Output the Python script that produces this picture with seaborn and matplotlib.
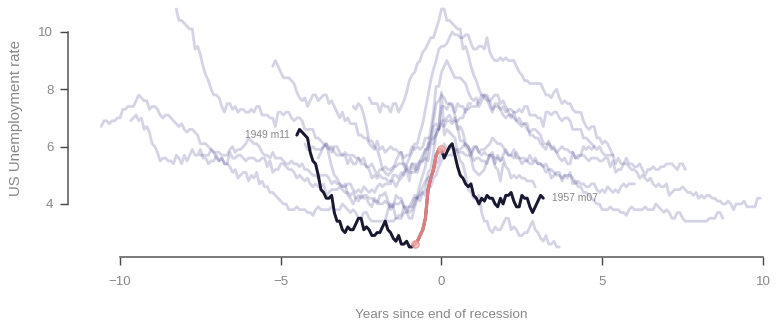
import matplotlib
matplotlib.use("Agg")
import numpy as np
import pandas as pd
import matplotlib.pyplot as plt
import seaborn as sns

# ---------------- data: monthly US unemployment rate (%) ----------------
ur_1948_1959 = [
    3.4, 3.8, 4.0, 3.9, 3.5, 3.6, 3.6, 3.9, 3.8, 3.7, 3.8, 4.0,
    4.3, 4.7, 5.0, 5.3, 6.1, 6.2, 6.7, 6.8, 6.6, 7.9, 6.4, 6.6,
    6.5, 6.4, 6.3, 5.8, 5.5, 5.4, 5.0, 4.5, 4.4, 4.2, 4.2, 4.3,
    3.7, 3.4, 3.4, 3.1, 3.0, 3.2, 3.1, 3.1, 3.3, 3.5, 3.5, 3.1,
    3.2, 3.1, 2.9, 2.9, 3.0, 3.0, 3.2, 3.4, 3.1, 3.0, 2.8, 2.7,
    2.9, 2.6, 2.6, 2.7, 2.5, 2.5, 2.6, 2.7, 2.9, 3.1, 3.5, 4.5,
    4.9, 5.2, 5.7, 5.9, 5.9, 5.6, 5.8, 6.0, 6.1, 5.7, 5.3, 5.0,
    4.9, 4.7, 4.6, 4.7, 4.3, 4.2, 4.0, 4.2, 4.1, 4.3, 4.2, 4.2,
    4.0, 3.9, 4.2, 4.0, 4.3, 4.3, 4.4, 4.1, 3.9, 3.9, 4.3, 4.2,
    4.2, 3.9, 3.7, 3.9, 4.1, 4.3, 4.2, 4.1, 4.4, 4.5, 5.1, 5.2,
    5.8, 6.4, 6.7, 7.4, 7.4, 7.3, 7.5, 7.4, 7.1, 6.7, 6.2, 6.2,
    6.0, 5.9, 5.6, 5.2, 5.1, 5.0, 5.1, 5.2, 5.5, 5.7, 5.8, 5.3,
]
ur_1960_1969 = [
    5.2, 4.8, 5.4, 5.2, 5.1, 5.4, 5.5, 5.6, 5.5, 6.1, 6.1, 6.6,
    6.6, 6.9, 6.9, 7.0, 7.1, 6.9, 7.0, 6.6, 6.7, 6.5, 6.1, 6.0,
    5.8, 5.5, 5.6, 5.6, 5.5, 5.5, 5.4, 5.7, 5.6, 5.4, 5.7, 5.5,
    5.7, 5.9, 5.7, 5.7, 5.9, 5.6, 5.6, 5.4, 5.5, 5.5, 5.7, 5.5,
    5.6, 5.4, 5.4, 5.3, 5.1, 5.2, 4.9, 5.0, 5.1, 5.1, 4.8, 5.0,
    4.9, 5.1, 4.7, 4.8, 4.6, 4.6, 4.4, 4.4, 4.3, 4.2, 4.1, 4.0,
    4.0, 3.8, 3.8, 3.8, 3.9, 3.8, 3.8, 3.8, 3.7, 3.7, 3.6, 3.8,
    3.9, 3.8, 3.8, 3.8, 3.8, 3.9, 3.8, 3.8, 3.8, 4.0, 3.9, 3.8,
    3.7, 3.8, 3.7, 3.5, 3.5, 3.7, 3.7, 3.5, 3.4, 3.4, 3.4, 3.4,
    3.4, 3.4, 3.4, 3.4, 3.4, 3.5, 3.5, 3.5, 3.7, 3.7, 3.5, 3.5,
]
ur_1970_1979 = [
    3.9, 4.2, 4.4, 4.6, 4.8, 4.9, 5.0, 5.1, 5.4, 5.5, 5.9, 6.1,
    5.9, 5.9, 6.0, 5.9, 5.9, 5.9, 6.0, 6.1, 6.0, 5.8, 6.0, 6.0,
    5.8, 5.7, 5.8, 5.7, 5.7, 5.7, 5.6, 5.6, 5.5, 5.6, 5.3, 5.2,
    4.9, 5.0, 4.9, 5.0, 4.9, 4.9, 4.8, 4.8, 4.8, 4.6, 4.8, 4.9,
    5.1, 5.2, 5.1, 5.1, 5.1, 5.4, 5.5, 5.5, 5.9, 6.0, 6.6, 7.2,
    8.1, 8.1, 8.6, 8.8, 9.0, 8.8, 8.6, 8.4, 8.4, 8.4, 8.3, 8.2,
    7.9, 7.7, 7.6, 7.7, 7.4, 7.6, 7.8, 7.8, 7.6, 7.7, 7.8, 7.8,
    7.5, 7.6, 7.4, 7.2, 7.0, 7.2, 6.9, 7.0, 6.8, 6.8, 6.8, 6.4,
    6.4, 6.3, 6.3, 6.1, 6.0, 5.9, 6.2, 5.9, 6.0, 5.8, 5.9, 6.0,
    5.9, 5.9, 5.8, 5.8, 5.6, 5.7, 5.7, 6.0, 5.9, 6.0, 5.9, 6.0,
]
ur_1980_1989 = [
    6.3, 6.3, 6.3, 6.9, 7.5, 7.6, 7.8, 7.7, 7.5, 7.5, 7.5, 7.2,
    7.5, 7.4, 7.4, 7.2, 7.5, 7.5, 7.2, 7.4, 7.6, 7.9, 8.3, 8.5,
    8.6, 8.9, 9.0, 9.3, 9.4, 9.6, 9.8, 9.8, 10.1, 10.4, 10.8, 10.8,
    10.4, 10.4, 10.3, 10.2, 10.1, 10.1, 9.4, 9.5, 9.2, 8.8, 8.5, 8.3,
    8.0, 7.8, 7.8, 7.7, 7.4, 7.2, 7.5, 7.5, 7.3, 7.4, 7.2, 7.3,
    7.3, 7.2, 7.2, 7.3, 7.2, 7.4, 7.4, 7.1, 7.1, 7.1, 7.0, 7.0,
    6.7, 7.2, 7.2, 7.1, 7.2, 7.2, 7.0, 6.9, 7.0, 7.0, 6.9, 6.6,
    6.6, 6.6, 6.6, 6.3, 6.3, 6.2, 6.1, 6.0, 5.9, 6.0, 5.8, 5.7,
    5.7, 5.7, 5.7, 5.4, 5.6, 5.4, 5.4, 5.6, 5.4, 5.4, 5.3, 5.3,
    5.4, 5.2, 5.0, 5.2, 5.2, 5.3, 5.2, 5.2, 5.3, 5.3, 5.4, 5.4,
]
ur_1990_1999 = [
    5.4, 5.3, 5.2, 5.4, 5.4, 5.2, 5.5, 5.7, 5.9, 5.9, 6.2, 6.3,
    6.4, 6.6, 6.8, 6.7, 6.9, 6.9, 6.8, 6.9, 6.9, 7.0, 7.0, 7.3,
    7.3, 7.4, 7.4, 7.4, 7.6, 7.8, 7.7, 7.6, 7.6, 7.3, 7.4, 7.4,
    7.3, 7.1, 7.0, 7.1, 7.1, 7.0, 6.9, 6.8, 6.7, 6.8, 6.6, 6.5,
    6.6, 6.6, 6.5, 6.4, 6.1, 6.1, 6.1, 6.0, 5.9, 5.8, 5.6, 5.5,
    5.6, 5.4, 5.4, 5.8, 5.6, 5.6, 5.7, 5.7, 5.6, 5.5, 5.6, 5.6,
    5.6, 5.5, 5.5, 5.6, 5.6, 5.3, 5.5, 5.1, 5.2, 5.2, 5.4, 5.4,
    5.3, 5.2, 5.2, 5.1, 4.9, 5.0, 4.9, 4.8, 4.9, 4.7, 4.6, 4.7,
    4.6, 4.6, 4.7, 4.3, 4.4, 4.5, 4.5, 4.5, 4.6, 4.5, 4.4, 4.4,
    4.3, 4.4, 4.2, 4.3, 4.2, 4.3, 4.3, 4.2, 4.2, 4.1, 4.1, 4.0,
]
ur_2000_2009 = [
    4.0, 4.1, 4.0, 3.8, 4.0, 4.0, 4.0, 4.1, 3.9, 3.9, 3.9, 3.9,
    4.2, 4.2, 4.3, 4.4, 4.3, 4.5, 4.6, 4.9, 5.0, 5.3, 5.5, 5.7,
    5.7, 5.7, 5.7, 5.9, 5.8, 5.8, 5.8, 5.7, 5.7, 5.7, 5.9, 6.0,
    5.8, 5.9, 5.9, 6.0, 6.1, 6.3, 6.2, 6.1, 6.1, 6.0, 5.8, 5.7,
    5.7, 5.6, 5.8, 5.6, 5.6, 5.6, 5.5, 5.4, 5.4, 5.5, 5.4, 5.4,
    5.3, 5.4, 5.2, 5.2, 5.1, 5.0, 5.0, 4.9, 5.0, 5.0, 5.0, 4.9,
    4.7, 4.8, 4.7, 4.7, 4.6, 4.6, 4.7, 4.7, 4.5, 4.4, 4.5, 4.4,
    4.6, 4.5, 4.4, 4.5, 4.4, 4.6, 4.7, 4.6, 4.7, 4.7, 4.7, 5.0,
    5.0, 4.9, 5.1, 5.0, 5.4, 5.6, 5.8, 6.1, 6.1, 6.5, 6.8, 7.3,
    7.8, 8.3, 8.7, 9.0, 9.4, 9.5, 9.5, 9.6, 9.8, 10.0, 9.9, 9.9,
]
ur_2010_2014 = [
    9.8, 9.8, 9.9, 9.9, 9.6, 9.4, 9.4, 9.5, 9.5, 9.4, 9.8, 9.3,
    9.1, 9.0, 9.0, 9.1, 9.0, 9.1, 9.0, 9.0, 9.0, 8.8, 8.6, 8.5,
    8.3, 8.3, 8.2, 8.2, 8.2, 8.2, 8.2, 8.0, 7.8, 7.8, 7.7, 7.9,
    8.0, 7.7, 7.5, 7.6, 7.5, 7.5, 7.3, 7.2, 7.2, 7.2, 6.9, 6.7,
    6.6, 6.7, 6.7, 6.3, 6.3, 6.1, 6.2, 6.1, 5.9, 5.7,
]
series_start = (1948, 1)

# NBER business-cycle peaks and troughs (year, month)
recession_peaks = [(1948, 11), (1953, 7), (1957, 8), (1960, 4), (1969, 12), (1973, 11),
                   (1980, 1), (1981, 7), (1990, 7), (2001, 3), (2007, 12)]
recession_troughs = [(1949, 10), (1954, 5), (1958, 4), (1961, 2), (1970, 11), (1975, 3),
                     (1980, 7), (1982, 11), (1991, 3), (2001, 11), (2009, 6)]
highlight_trough = (1954, 5)

# ---------------- build long table ----------------
rate = np.array(ur_1948_1959 + ur_1960_1969 + ur_1970_1979 + ur_1980_1989
                + ur_1990_1999 + ur_2000_2009 + ur_2010_2014)
def mi(ym):
    return ym[0] * 12 + ym[1] - 1
m0 = mi(series_start)
months = np.arange(m0, m0 + len(rate))

rows = []
for i, tr in enumerate(recession_troughs):
    start = m0 if i == 0 else max(m0, mi(recession_troughs[i - 1]) + 1)
    end = months[-1] if i == len(recession_troughs) - 1 else mi(recession_peaks[i + 1]) - 1
    sel = (months >= start) & (months <= end)
    for m, r in zip(months[sel], rate[sel]):
        rows.append({"recession": f"{tr[0]}m{tr[1]}", "month": m,
                     "years": (m - mi(tr)) / 12.0, "rate": r,
                     "in_rec": mi(recession_peaks[i]) <= m <= mi(tr)})
df = pd.DataFrame(rows)
hl_key = f"{highlight_trough[0]}m{highlight_trough[1]}"
hl = df[df.recession == hl_key]
hl_rec = hl[hl.in_rec]

# ---------------- plot ----------------
sns.set_theme(style="ticks")
plt.rcParams["font.family"] = ["Liberation Sans", "DejaVu Sans"]
plt.rcParams["axes.unicode_minus"] = True

fig = plt.figure(figsize=(7.76, 3.21), dpi=100)
ax = fig.add_axes([0.1215, 0.2128, 0.870, 0.7726])

sns.lineplot(data=df, x="years", y="rate", units="recession", estimator=None,
             color="#2a2a80", alpha=0.2, lw=2.0, ax=ax, legend=False)
sns.lineplot(data=hl, x="years", y="rate", estimator=None, color="#181830",
             lw=2.1, ax=ax, legend=False)
sns.lineplot(data=hl_rec, x="years", y="rate", estimator=None, color="#f08a8a",
             lw=2.4, alpha=0.9, ax=ax, legend=False)
ends = hl_rec.iloc[[0, -1]]
sns.scatterplot(data=ends, x="years", y="rate", s=28, color="#f6b0b0",
                edgecolor="#ec8a8a", linewidth=0.9, alpha=0.75, ax=ax, legend=False, zorder=5)

def lab(m):
    return f"{m // 12} m{m % 12 + 1:02d}"
first, last = hl.iloc[0], hl.iloc[-1]
ax.annotate(lab(int(first.month)), xy=(first.years, first.rate), xytext=(-5, 0),
            textcoords="offset points", ha="right", va="center", fontsize=7.4, color="#888888")
ax.annotate(lab(int(last.month)), xy=(last.years, last.rate), xytext=(6, 0),
            textcoords="offset points", ha="left", va="center", fontsize=7.4, color="#888888")

ax.set_xlim(-10.8, 10.2)
ax.set_ylim(2.3, 10.95)
ax.set_xticks([-10, -5, 0, 5, 10])
ax.set_yticks([4, 6, 8, 10])

sns.despine(ax=ax)
ax.spines["left"].set_position(("outward", 19))
ax.spines["bottom"].set_position(("outward", 3))
ax.spines["left"].set_bounds(4, 10)
ax.spines["bottom"].set_bounds(-10, 10)
for s in ("left", "bottom"):
    ax.spines[s].set_color("#555555")
    ax.spines[s].set_linewidth(1.1)
ax.tick_params(axis="both", colors="#444444", labelcolor="#888888", labelsize=9.5,
               length=5.5, width=1.0)
ax.tick_params(axis="x", pad=8)
ax.tick_params(axis="y", pad=5)

ax.set_xlabel("Years since end of recession", fontsize=9.7, color="#888888")
ax.set_ylabel("US Unemployment rate", fontsize=10.8, color="#888888")
ax.xaxis.set_label_coords(0.514, -0.226)
ax.yaxis.set_label_coords(-0.1057, 0.543)

fig.savefig("out.png", dpi=100)
